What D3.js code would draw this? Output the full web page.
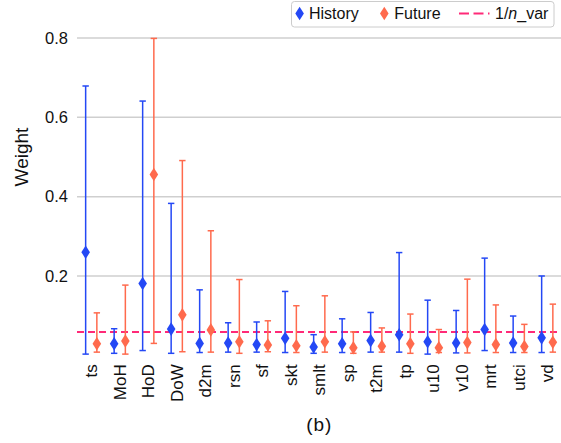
<!DOCTYPE html>
<html>
<head>
<meta charset="utf-8">
<script src="https://cdn.jsdelivr.net/npm/d3@7"></script>
<style>
  html, body { margin: 0; padding: 0; background: #fff; }
  svg { display: block; font-family: "Liberation Sans", Arial, sans-serif; }
</style>
</head>
<body>
<svg id="chart" width="561" height="443"></svg>
<script>
const categories = ["ts","MoH","HoD","DoW","d2m","rsn","sf","skt","smlt","sp","t2m","tp","u10","v10","mrt","utci","vd"];
const historyMean = [0.260,0.029,0.181,0.066,0.030,0.031,0.027,0.043,0.021,0.029,0.037,0.052,0.034,0.031,0.065,0.031,0.044];
const historyLow  = [0.003,0.005,0.012,0.005,0.007,0.008,0.008,0.007,0.005,0.007,0.008,0.008,0.003,0.006,0.012,0.007,0.007];
const historyHigh = [0.679,0.067,0.641,0.383,0.165,0.082,0.084,0.161,0.052,0.092,0.108,0.259,0.139,0.113,0.245,0.099,0.200];
const futureMean  = [0.029,0.036,0.456,0.102,0.064,0.034,0.026,0.024,0.034,0.019,0.023,0.029,0.019,0.032,0.027,0.022,0.033];
const futureLow   = [0.008,0.003,0.030,0.009,0.008,0.005,0.009,0.007,0.008,0.005,0.008,0.005,0.007,0.006,0.007,0.007,0.008];
const futureHigh  = [0.107,0.177,0.799,0.491,0.314,0.191,0.087,0.125,0.150,0.059,0.069,0.104,0.065,0.192,0.127,0.078,0.129];
const yTicks = [0.2, 0.4, 0.6, 0.8];
const seriesNames = ["History", "Future"];
const seriesColors = ["#2448f5", "#ff6a4d"];
const refLabel = "1/n_var";
const xLabel = "(b)";
const yLabel = "Weight";

const svg = d3.select("#chart");
const pLeft = 77, pRight = 561.5, pTop = 38, pBottom = 355.3;

const x = d3.scaleBand().domain(categories).range([pLeft, pRight]).padding(0);
const off = d3.scalePoint().domain(seriesNames).range([x.bandwidth()/2 - 5.6, x.bandwidth()/2 + 5.6]);
const y = d3.scaleLinear().domain([0, 0.8]).range([pBottom, pTop]);

// gridlines
svg.append("g").selectAll("line").data(yTicks).join("line")
  .attr("x1", pLeft).attr("x2", 561)
  .attr("y1", d => y(d)).attr("y2", d => y(d))
  .attr("stroke", "#cfcfcf").attr("stroke-width", 1.5);

// y axis
const yAxis = svg.append("g").attr("transform", `translate(${pLeft},0)`)
  .call(d3.axisLeft(y).tickValues(yTicks).tickFormat(d3.format(".1f")).tickSize(0).tickPadding(9));
yAxis.select(".domain").remove();
yAxis.selectAll("text").attr("font-size", 16.5).attr("fill", "#111").attr("font-family", "Liberation Sans, Arial, sans-serif");

// y label
svg.append("text").attr("transform", `translate(28,157) rotate(-90)`)
  .attr("text-anchor", "middle").attr("font-size", 19).attr("fill", "#111").text(yLabel);

// x axis labels
const xAxis = svg.append("g").attr("transform", `translate(0,${pBottom})`)
  .call(d3.axisBottom(x).tickSize(0).tickPadding(0));
xAxis.select(".domain").remove();
xAxis.selectAll("text")
  .attr("font-size", 17).attr("fill", "#111").attr("font-family", "Liberation Sans, Arial, sans-serif")
  .attr("transform", "rotate(-90)")
  .attr("text-anchor", "end").attr("x", -9).attr("y", 0).attr("dy", "0.35em");

svg.append("text").attr("x", (pLeft + pRight)/2).attr("y", 431)
  .attr("text-anchor", "middle").attr("font-size", 19).attr("letter-spacing", 1).attr("fill", "#111").text(xLabel);

// reference dashed line
const refVal = 1 / categories.length;
svg.append("line").attr("x1", pLeft).attr("x2", 561)
  .attr("y1", y(refVal)).attr("y2", y(refVal))
  .attr("stroke", "#ff2a78").attr("stroke-width", 2).attr("stroke-dasharray", "7,4");

// series
const seriesData = [
  categories.map((c, i) => ({c, m: historyMean[i], lo: historyLow[i], hi: historyHigh[i]})),
  categories.map((c, i) => ({c, m: futureMean[i], lo: futureLow[i], hi: futureHigh[i]}))
];
const diamond = "M0,-6.8L4.3,0L0,6.8L-4.3,0Z";

seriesData.forEach((data, si) => {
  const name = seriesNames[si], col = seriesColors[si];
  const g = svg.append("g");
  const cx = d => x(d.c) + off(name);
  g.selectAll("line.v").data(data).join("line").attr("class", "v")
    .attr("x1", cx).attr("x2", cx).attr("y1", d => y(d.lo)).attr("y2", d => y(d.hi))
    .attr("stroke", col).attr("stroke-width", 1.5);
  g.selectAll("line.capt").data(data).join("line").attr("class", "capt")
    .attr("x1", d => cx(d) - 3.2).attr("x2", d => cx(d) + 3.2)
    .attr("y1", d => y(d.hi)).attr("y2", d => y(d.hi))
    .attr("stroke", col).attr("stroke-width", 1.5);
  g.selectAll("line.capb").data(data).join("line").attr("class", "capb")
    .attr("x1", d => cx(d) - 3.2).attr("x2", d => cx(d) + 3.2)
    .attr("y1", d => y(d.lo)).attr("y2", d => y(d.lo))
    .attr("stroke", col).attr("stroke-width", 1.5);
  g.selectAll("path").data(data).join("path")
    .attr("d", diamond)
    .attr("transform", d => `translate(${cx(d)},${y(d.m)})`)
    .attr("fill", col);
});

// legend
const lg = svg.append("g");
lg.append("rect").attr("x", 291.5).attr("y", 1.5).attr("width", 262.5).attr("height", 25.5)
  .attr("rx", 3).attr("fill", "#fff").attr("stroke", "#cccccc").attr("stroke-width", 1);
const legY = 13.5;
[[299.6, 309], [384.3, 394.3]].forEach(([mx, tx], i) => {
  lg.append("path").attr("d", diamond).attr("transform", `translate(${mx},${legY})`).attr("fill", seriesColors[i]);
  lg.append("text").attr("x", tx).attr("y", legY).attr("dy", "0.35em")
    .attr("font-size", 16).attr("fill", "#111").text(seriesNames[i]);
});
lg.append("line").attr("x1", 459).attr("x2", 489.5).attr("y1", legY).attr("y2", legY)
  .attr("stroke", "#ff2a78").attr("stroke-width", 2).attr("stroke-dasharray", "10,4.5");
const parts = refLabel.split("n");
const t = lg.append("text").attr("x", 495).attr("y", legY).attr("dy", "0.35em")
  .attr("font-size", 16).attr("fill", "#111");
t.append("tspan").text(parts[0]);
t.append("tspan").attr("font-style", "italic").text("n");
t.append("tspan").text(parts[1]);
</script>
</body>
</html>
